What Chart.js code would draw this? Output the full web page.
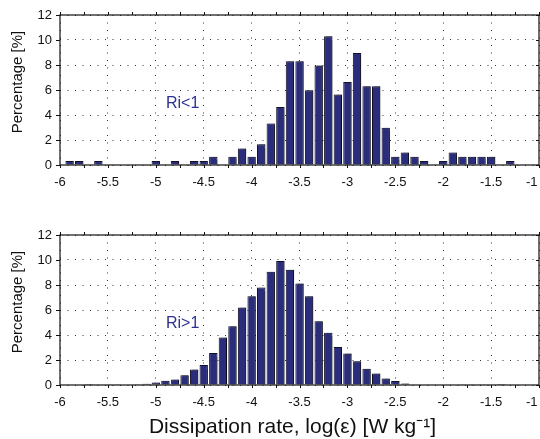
<!DOCTYPE html>
<html>
<head>
<meta charset="utf-8">
<script src="https://cdn.jsdelivr.net/npm/chart.js@4.4.1/dist/chart.umd.min.js"></script>
<style>
  html, body { margin: 0; padding: 0; background: #fff; overflow: hidden; }
  #wrap { position: relative; width: 540px; height: 439px; }
  canvas { position: absolute; left: 0; }
</style>
</head>
<body>
<div id="wrap">
  <canvas id="chartTop" width="540" height="200" style="top:0"></canvas>
  <canvas id="chartBottom" width="540" height="239" style="top:200px"></canvas>
</div>
<script>
// bin centres, log10(epsilon)
var bins = [-5.9, -5.8, -5.7, -5.6, -5.5, -5.4, -5.3, -5.2, -5.1, -5.0,
            -4.9, -4.8, -4.7, -4.6, -4.5, -4.4, -4.3, -4.2, -4.1, -4.0,
            -3.9, -3.8, -3.7, -3.6, -3.5, -3.4, -3.3, -3.2, -3.1, -3.0,
            -2.9, -2.8, -2.7, -2.6, -2.5, -2.4, -2.3, -2.2, -2.1, -2.0,
            -1.9, -1.8, -1.7, -1.6, -1.5, -1.4, -1.3, -1.2, -1.1];

// percentage, Ri < 1
var riBelow = [0.33, 0.33, 0, 0.33, 0, 0, 0, 0, 0, 0.33,
               0, 0.33, 0, 0.33, 0.33, 0.66, 0, 0.66, 1.33, 0.66,
               1.66, 3.32, 4.65, 8.3, 8.3, 5.98, 7.97, 10.3, 5.65, 6.64,
               8.97, 6.31, 6.31, 2.99, 0.66, 1.0, 0.66, 0.33, 0, 0.33,
               1.0, 0.66, 0.66, 0.66, 0.66, 0, 0.33, 0, 0];

// percentage, Ri > 1
var riAbove = [0, 0, 0.01, 0.02, 0.03, 0.03, 0.04, 0.06, 0.1, 0.2,
               0.35, 0.45, 0.78, 1.25, 1.6, 2.56, 3.8, 4.7, 6.2, 7.1,
               7.8, 9.07, 9.92, 9.23, 8.13, 7.1, 5.1, 4.19, 3.04, 2.53,
               1.9, 1.31, 0.93, 0.53, 0.32, 0.13, 0.05, 0.05, 0.05, 0.05,
               0.05, 0.03, 0.03, 0.03, 0.03, 0.01, 0, 0, 0];

var xTicks = [-6, -5.5, -5, -4.5, -4, -3.5, -3, -2.5, -2, -1.5, -1];
var xMinorTicks = [-6, -5.75, -5.5, -5.25, -5, -4.75, -4.5, -4.25, -4, -3.75, -3.5,
                   -3.25, -3, -2.75, -2.5, -2.25, -2, -1.75, -1.5, -1.25, -1];
var yTicks = [0, 2, 4, 6, 8, 10, 12];

var FONT = '"Liberation Sans", Arial, Helvetica, sans-serif';
Chart.defaults.font.family = FONT;
Chart.defaults.color = '#111';

// grey drop shadow on the bars
var barShadow = {
  id: 'barShadow',
  beforeDatasetsDraw: function(chart) {
    var ctx = chart.ctx;
    ctx.save();
    ctx.shadowColor = 'rgba(0,0,0,0.45)';
    ctx.shadowOffsetX = 2;
    ctx.shadowOffsetY = 0;
    ctx.shadowBlur = 1;
  },
  afterDatasetsDraw: function(chart) {
    chart.ctx.restore();
  }
};

// box round the axes, tick marks, axis titles and the Ri label
var axesBox = {
  id: 'axesBox',
  afterDraw: function(chart, args, opts) {
    var ctx = chart.ctx, a = chart.chartArea;
    var x = chart.scales.x, y = chart.scales.y;
    ctx.save();
    ctx.strokeStyle = '#111';
    ctx.lineWidth = 1.2;
    ctx.strokeRect(a.left, a.top, a.right - a.left, a.bottom - a.top);
    ctx.lineWidth = 1;
    ctx.beginPath();
    xMinorTicks.forEach(function(v) {
      var px = Math.round(x.getPixelForValue(v)) + 0.5;
      ctx.moveTo(px, a.top); ctx.lineTo(px, a.top - 3);
      ctx.moveTo(px, a.bottom); ctx.lineTo(px, a.bottom + 3);
    });
    yTicks.forEach(function(v) {
      var py = Math.round(y.getPixelForValue(v)) + 0.5;
      ctx.moveTo(a.left, py); ctx.lineTo(a.left - 4, py);
      ctx.moveTo(a.right, py); ctx.lineTo(a.right - 3, py);
    });
    ctx.stroke();

    ctx.textAlign = 'center';
    ctx.textBaseline = 'middle';
    ctx.fillStyle = '#111';
    // y title
    ctx.save();
    ctx.translate(18, (a.top + a.bottom) / 2 - 8);
    ctx.rotate(-Math.PI / 2);
    ctx.font = '15px ' + FONT;
    ctx.fillText('Percentage [%]', 0, 0);
    ctx.restore();
    // x title
    if (opts.xTitle) {
      ctx.font = '21px ' + FONT;
      ctx.fillText(opts.xTitle, (a.left + a.right) / 2 - 7, chart.height - 12);
    }
    // Ri label
    ctx.fillStyle = '#2d3192';
    ctx.font = '16px ' + FONT;
    ctx.fillText(opts.text, x.getPixelForValue(opts.x), y.getPixelForValue(opts.y));
    ctx.restore();
  }
};

function makeChart(id, values, label, top, xHeight) {
  return new Chart(document.getElementById(id), {
    type: 'bar',
    data: {
      datasets: [{
        data: bins.map(function(b, i) { return {x: b, y: values[i]}; }),
        backgroundColor: '#2a2c7c',
        borderColor: '#101028',
        borderWidth: 1,
        barPercentage: 0.87,
        categoryPercentage: 1
      }]
    },
    options: {
      responsive: false,
      animation: false,
      layout: { padding: { top: top, right: 1, bottom: 0, left: 0 } },
      plugins: {
        legend: { display: false },
        tooltip: { enabled: false },
        axesBox: label
      },
      scales: {
        x: {
          type: 'linear', min: -6, max: -1, offset: false,
          afterBuildTicks: function(s) { s.ticks = xTicks.map(function(v) { return {value: v}; }); },
          afterFit: function(s) { s.height = xHeight; s.paddingLeft = 0; s.paddingRight = 0; },
          ticks: { padding: 10, maxRotation: 0, autoSkip: false, font: { size: 13 },
                   callback: function(v, i, t) {
                     // last label kept inside the figure
                     return i === t.length - 1 ? String(v) + '\u2007\u2007' : String(v);
                   } },
          grid: { color: '#333', lineWidth: 1, drawTicks: false, offset: false },
          border: { display: false, dash: [1, 6.5] },
          title: { display: false }
        },
        y: {
          min: 0, max: 12,
          afterBuildTicks: function(s) { s.ticks = yTicks.map(function(v) { return {value: v}; }); },
          afterFit: function(s) { s.width = 60; s.paddingTop = 0; s.paddingBottom = 0; },
          ticks: { padding: 8, font: { size: 13 }, callback: function(v) { return String(v); } },
          grid: { color: '#333', lineWidth: 1, drawTicks: false },
          border: { display: false, dash: [1, 6.5] },
          title: { display: false }
        }
      }
    },
    plugins: [barShadow, axesBox]
  });
}

makeChart('chartTop', riBelow, { text: 'Ri<1', x: -4.72, y: 4.9, xTitle: null }, 15, 35);
makeChart('chartBottom', riAbove,
          { text: 'Ri>1', x: -4.72, y: 4.95, xTitle: 'Dissipation rate, log(\u03b5) [W kg\u207b\u00b9]' }, 35, 54);
</script>
</body>
</html>
